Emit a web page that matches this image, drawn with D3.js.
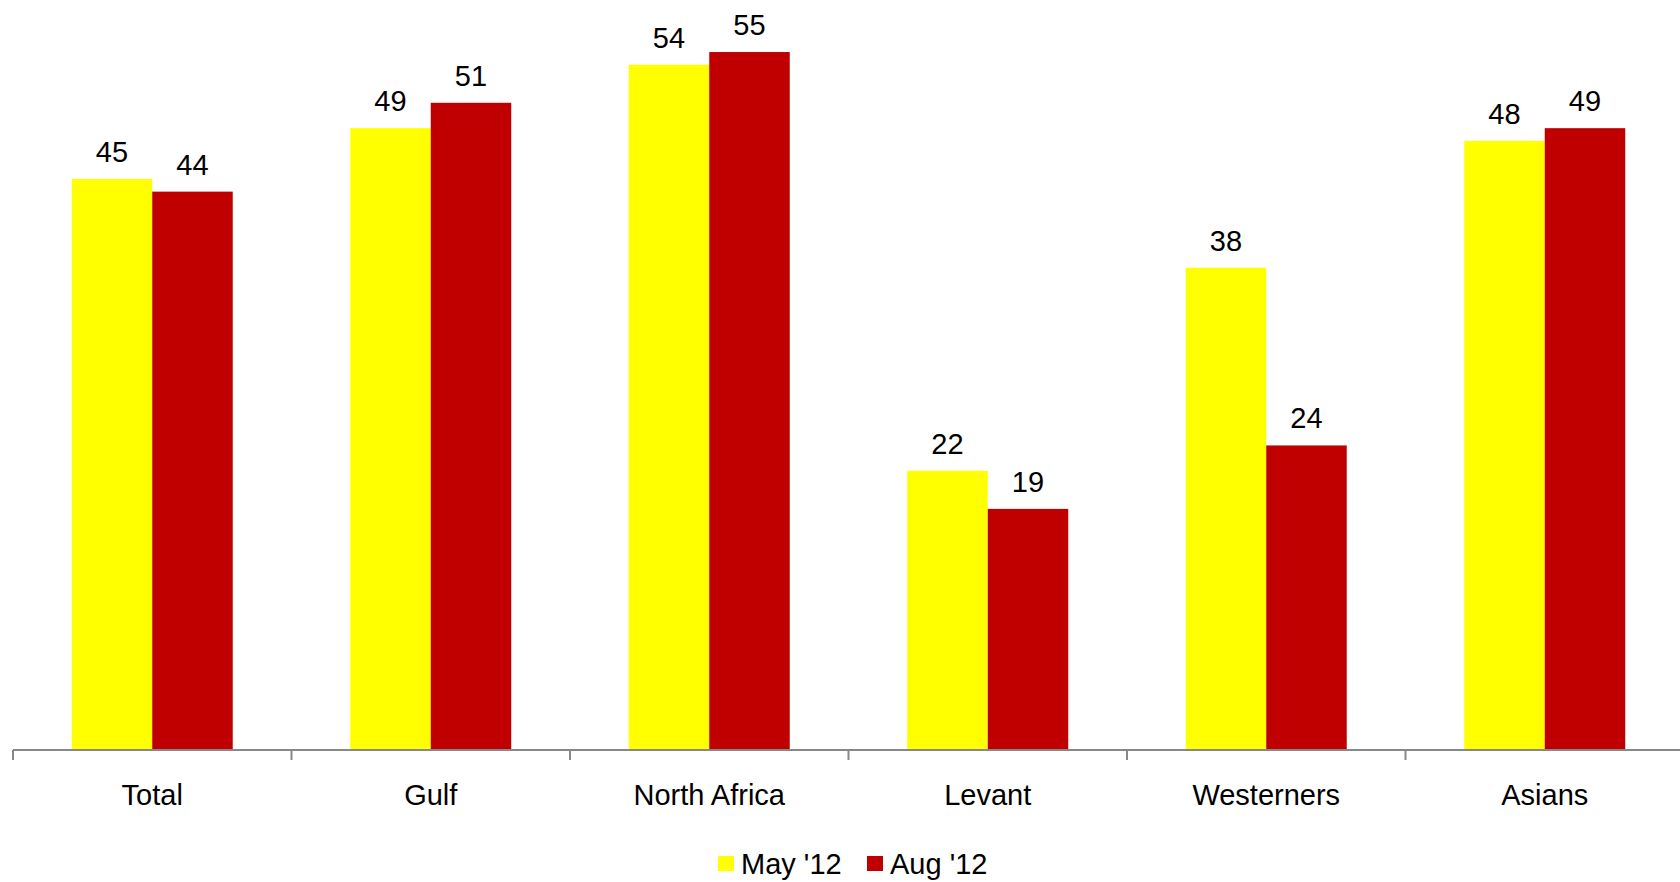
<!DOCTYPE html>
<html>
<head>
<meta charset="utf-8">
<script src="https://cdn.jsdelivr.net/npm/d3@7"></script>
<style>
  html, body { margin: 0; padding: 0; background: #fff; }
  svg { display: block; font-family: "Liberation Sans", Arial, sans-serif; }
</style>
</head>
<body>
<svg id="chart" width="1680" height="882"></svg>
<script>
const categories = ["Total", "Gulf", "North Africa", "Levant", "Westerners", "Asians"];
const seriesNames = ["May '12", "Aug '12"];
const may12 = [45, 49, 54, 22, 38, 48];
const aug12 = [44, 51, 55, 19, 24, 49];
const seriesColors = ["#FFFF00", "#C00000"];

const seriesValues = [may12, aug12];
const data = categories.map((c, i) => ({
  category: c,
  values: seriesNames.map((s, j) => ({ series: s, value: seriesValues[j][i], idx: j }))
}));

const svg = d3.select("#chart");
const W = 1680, H = 882;
const plotLeft = 13, bandW = 278.5;
const baseY = 750;

const x0 = d3.scaleBand()
  .domain(categories)
  .range([plotLeft, plotLeft + bandW * categories.length])
  .paddingInner(0).paddingOuter(0);

const gapFrac = 0.211;
const x1 = d3.scaleBand()
  .domain(seriesNames)
  .range([x0.bandwidth() * gapFrac, x0.bandwidth() * (1 - gapFrac)])
  .paddingInner(0).paddingOuter(0);

const y = d3.scaleLinear().domain([0, 59.1]).range([baseY, 0]);

// bars
const groups = svg.append("g").selectAll("g")
  .data(data).join("g")
  .attr("transform", d => `translate(${x0(d.category)},0)`);

groups.selectAll("rect")
  .data(d => d.values).join("rect")
  .attr("x", d => x1(d.series))
  .attr("y", d => y(d.value))
  .attr("width", x1.bandwidth())
  .attr("height", d => y(0) - y(d.value))
  .attr("fill", d => seriesColors[d.idx]);

groups.selectAll("text")
  .data(d => d.values).join("text")
  .attr("x", d => x1(d.series) + x1.bandwidth() / 2)
  .attr("y", d => y(d.value) - 17)
  .attr("text-anchor", "middle")
  .attr("font-size", 29)
  .attr("fill", "#000")
  .text(d => d.value);

// x axis
const axisG = svg.append("g").attr("transform", `translate(0,${baseY})`);
axisG.append("line")
  .attr("x1", plotLeft).attr("x2", W)
  .attr("y1", 0).attr("y2", 0)
  .attr("stroke", "#888").attr("stroke-width", 2);

const tickPositions = categories.map(c => x0(c));
axisG.selectAll("line.tick")
  .data(tickPositions).join("line")
  .attr("class", "tick")
  .attr("x1", d => d).attr("x2", d => d)
  .attr("y1", 0).attr("y2", 10)
  .attr("stroke", "#888").attr("stroke-width", 2);

axisG.selectAll("text.cat")
  .data(categories).join("text")
  .attr("class", "cat")
  .attr("x", d => x0(d) + x0.bandwidth() / 2)
  .attr("y", 55)
  .attr("text-anchor", "middle")
  .attr("font-size", 29)
  .attr("fill", "#000")
  .text(d => d);

// legend
const legendItems = [
  { name: seriesNames[0], color: seriesColors[0], x: 718 },
  { name: seriesNames[1], color: seriesColors[1], x: 867 }
];
const lg = svg.append("g");
lg.selectAll("rect")
  .data(legendItems).join("rect")
  .attr("x", d => d.x).attr("y", 856)
  .attr("width", 16).attr("height", 15)
  .attr("fill", d => d.color);
lg.selectAll("text")
  .data(legendItems).join("text")
  .attr("x", d => d.x + 23).attr("y", 874)
  .attr("font-size", 29)
  .attr("fill", "#000")
  .text(d => d.name);
</script>
</body>
</html>
